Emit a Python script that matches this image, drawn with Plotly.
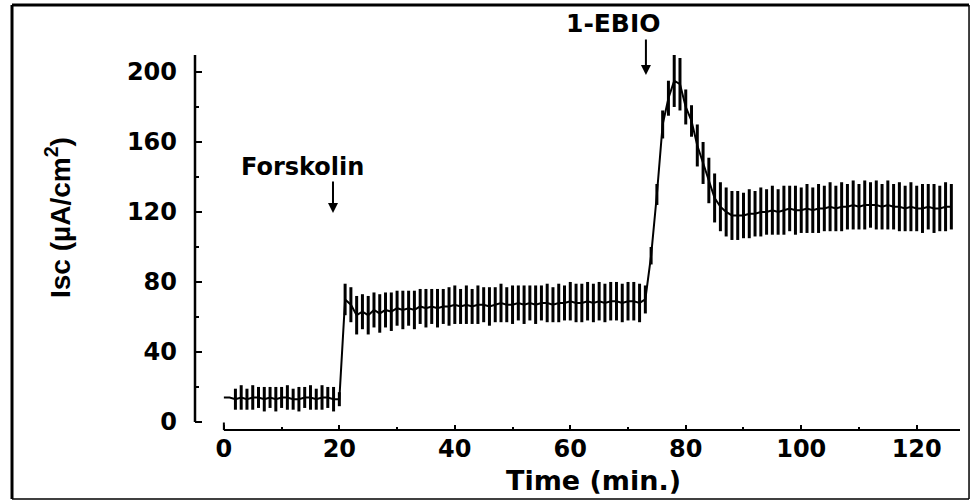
import plotly.graph_objects as go

# ---- data ----
time_min = list(range(0, 127))

isc_mean = [
    14, 14, 13, 14, 13, 14, 14, 13, 14, 13,   # 0-9
    14, 14, 13, 13, 14, 14, 13, 14, 14, 13,   # 10-19
    13, 70, 67, 61, 63, 61, 64, 62, 64, 63,   # 20-29
    65, 64, 65, 64, 66, 65, 66, 65, 66, 66,   # 30-39
    67, 66, 67, 66, 67, 67, 66, 67, 68, 67,   # 40-49
    67, 68, 67, 68, 67, 68, 68, 67, 68, 68,   # 50-59
    69, 68, 68, 69, 68, 69, 68, 69, 69, 68,   # 60-69
    69, 69, 68, 70, 95, 130, 170, 185, 195, 193,  # 70-79
    180, 172, 158, 148, 138, 128, 123, 120, 118, 118,  # 80-89
    118, 119, 119, 120, 120, 121, 120, 121, 122, 121,  # 90-99
    121, 122, 121, 122, 122, 123, 122, 123, 123, 124,  # 100-109
    123, 124, 124, 124, 123, 124, 123, 123, 122, 123,  # 110-119
    122, 122, 123, 122, 122, 123, 123,                 # 120-126
]

isc_sem = [
    0, 0, 6, 7, 6, 7, 6, 7, 6, 7,
    6, 7, 6, 7, 6, 7, 6, 7, 6, 7,
    4, 9, 10, 11, 10, 11, 10, 11, 10, 11,
    10, 11, 10, 11, 10, 11, 10, 11, 10, 11,
    11, 10, 11, 10, 11, 10, 11, 10, 11, 10,
    11, 10, 11, 10, 11, 10, 11, 10, 11, 10,
    11, 11, 11, 11, 11, 11, 11, 11, 11, 11,
    11, 11, 11, 8, 5, 6, 8, 10, 15, 15,
    10, 9, 12, 12, 13, 14, 14, 14, 14, 14,
    13, 14, 13, 14, 13, 14, 13, 14, 13, 14,
    13, 14, 13, 14, 13, 14, 13, 14, 13, 14,
    13, 14, 13, 14, 13, 14, 13, 14, 13, 14,
    13, 14, 13, 14, 13, 14, 13,
]

x_ticks = [0, 20, 40, 60, 80, 100, 120]
y_ticks = [0, 40, 80, 120, 160, 200]

BOLD = "DejaVu Sans"
ARIAL = "Liberation Sans, Arial, sans-serif"

fig = go.Figure()
fig.add_trace(go.Scatter(
    x=time_min, y=isc_mean, mode="lines",
    line=dict(color="black", width=2),
    error_y=dict(type="data", array=isc_sem, visible=True,
                 color="black", thickness=3, width=0),
    showlegend=False, hoverinfo="skip",
))

X_RANGE = [-5, 127.5]
Y_RANGE = [-4.6, 209.7]

fig.update_layout(
    width=971, height=501,
    margin=dict(l=195, r=11, t=55, b=71),
    paper_bgcolor="white", plot_bgcolor="white",
    font=dict(family=BOLD, color="black"),
    xaxis=dict(
        range=X_RANGE, showgrid=False, zeroline=False, showline=False,
        tickmode="array", tickvals=x_ticks, ticktext=[str(v) for v in x_ticks],
        ticks="inside", ticklen=5, tickwidth=2, tickcolor="black",
        minor=dict(ticks="inside", ticklen=3, tickwidth=2, tickcolor="black",
                   tickmode="linear", tick0=0, dtick=10),
        tickfont=dict(family=BOLD, size=24, weight="bold"),
        ticklabelstandoff=2,
    ),
    yaxis=dict(
        range=Y_RANGE, showgrid=False, zeroline=False, showline=False,
        tickmode="array", tickvals=y_ticks, ticktext=[str(v) for v in y_ticks],
        ticks="inside", ticklen=7, tickwidth=2, tickcolor="black",
        minor=dict(ticks="inside", ticklen=4, tickwidth=1.5, tickcolor="black",
                   tickmode="linear", tick0=0, dtick=20),
        tickfont=dict(family=BOLD, size=24, weight="bold"),
        ticklabelstandoff=17,
    ),
)

# axis lines (offset style: y-axis from 0 upward, x-axis from 0 rightward)
fig.add_shape(type="line", xref="paper", yref="y", x0=0, x1=0, y0=0, y1=Y_RANGE[1],
              line=dict(color="black", width=2.5))
fig.add_shape(type="line", xref="x", yref="paper", x0=0, x1=127.5, y0=0, y1=0,
              line=dict(color="black", width=2))
fig.add_shape(type="line", xref="x", yref="paper", x0=0, x1=0, y0=0, y1=0.02,
              line=dict(color="black", width=2))

# outer frame
frame = dict(xl=-0.2392, xr=1.0118, yt=1.1333, yb=-0.184)
fig.add_shape(type="line", xref="paper", yref="paper", x0=frame["xl"], x1=frame["xr"],
              y0=frame["yt"], y1=frame["yt"], line=dict(color="black", width=3))
fig.add_shape(type="line", xref="paper", yref="paper", x0=frame["xl"], x1=frame["xl"],
              y0=frame["yt"], y1=frame["yb"], line=dict(color="black", width=3))
fig.add_shape(type="line", xref="paper", yref="paper", x0=frame["xl"], x1=frame["xr"],
              y0=frame["yb"], y1=frame["yb"], line=dict(color="black", width=1.5))
fig.add_shape(type="line", xref="paper", yref="paper", x0=frame["xr"], x1=frame["xr"],
              y0=frame["yt"], y1=frame["yb"], line=dict(color="black", width=1.5))

# titles
fig.add_annotation(text="Time (min.)", xref="paper", yref="paper",
                   x=(593 - 195) / 765, y=(430 - 480) / 375, showarrow=False,
                   xanchor="center", yanchor="middle",
                   font=dict(family=BOLD, size=27, weight="bold"))
fig.add_annotation(text="Isc (\u00b5A/cm<sup>2</sup>)", xref="paper", yref="paper",
                   x=(58 - 195) / 765, y=(430 - 218) / 375, textangle=-90, showarrow=False,
                   xanchor="center", yanchor="middle",
                   font=dict(family=ARIAL, size=28, weight="bold"))

# drug additions
fig.add_annotation(text="Forskolin", xref="paper", yref="paper",
                   x=(302 - 195) / 765, y=(430 - 167) / 375, showarrow=False,
                   xanchor="center", yanchor="middle",
                   font=dict(family=BOLD, size=24, weight="bold"))
fig.add_annotation(text="", x=18.9, y=119.4, ax=0, ay=-33,
                   showarrow=True, arrowhead=2, arrowsize=1, arrowwidth=2, arrowcolor="black")
fig.add_annotation(text="1-EBIO", xref="paper", yref="paper",
                   x=(613 - 195) / 765, y=(430 - 23) / 375, showarrow=False,
                   xanchor="center", yanchor="middle",
                   font=dict(family=BOLD, size=25, weight="bold"))
fig.add_annotation(text="", x=73.1, y=198.3, ax=0, ay=-37,
                   showarrow=True, arrowhead=2, arrowsize=1, arrowwidth=2, arrowcolor="black")

fig.write_html("out.html", config={"displayModeBar": False},
               post_script="document.body.style.margin='0';")
